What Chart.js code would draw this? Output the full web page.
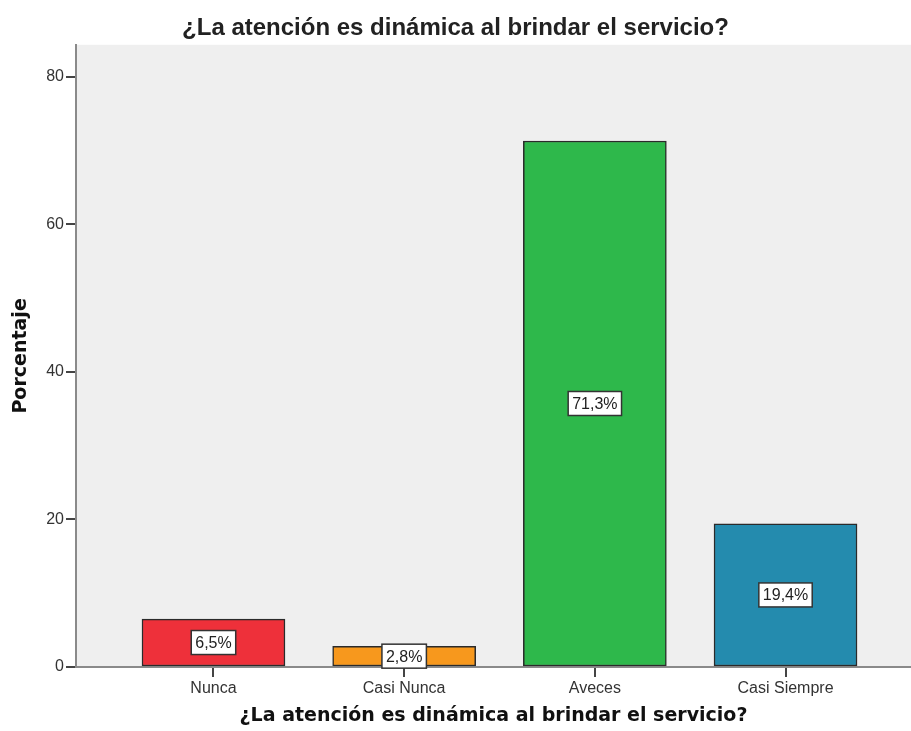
<!DOCTYPE html>
<html>
<head>
<meta charset="utf-8">
<script src="https://cdn.jsdelivr.net/npm/chart.js@4"></script>
<style>
  html,body{margin:0;padding:0;background:#fff;}
  #wrap{width:911px;height:731px;}
</style>
</head>
<body>
<div id="wrap"><canvas id="grafico" width="911" height="731"></canvas></div>
<script>
const categorias = ['Nunca', 'Casi Nunca', 'Aveces', 'Casi Siempre'];
const porcentajes = [6.5, 2.8, 71.3, 19.4];
const colores = ['#ee303a', '#f7981d', '#2eb84b', '#248bae'];
const ticksY = [0, 20, 40, 60, 80];
const titulo = '¿La atención es dinámica al brindar el servicio?';

// etiqueta blanca en medio de cada barra
const etiquetas = {
    id: 'etiquetas',
    afterDatasetsDraw(chart){
        const ctx = chart.ctx;
        const meta = chart.getDatasetMeta(0);
        ctx.save();
        ctx.font = '16px "Liberation Sans", Arial, sans-serif';
        ctx.textAlign = 'center';
        ctx.textBaseline = 'middle';
        meta.data.forEach((bar, i) => {
            const txt = porcentajes[i].toFixed(1).replace('.', ',') + '%';
            const w = ctx.measureText(txt).width + 8;
            const h = 24;
            const cy = (bar.y + bar.base) / 2;
            ctx.fillStyle = '#ffffff';
            ctx.fillRect(bar.x - w/2, cy - h/2, w, h);
            ctx.strokeStyle = '#333';
            ctx.lineWidth = 1.5;
            ctx.strokeRect(bar.x - w/2, cy - h/2, w, h);
            ctx.fillStyle = '#222';
            ctx.fillText(txt, bar.x, cy + 1);
        });
        ctx.restore();
    }
};

// fondo gris del área del gráfico
const fondo = {
    id: 'fondo',
    beforeDraw(chart){
        const a = chart.chartArea;
        chart.ctx.save();
        chart.ctx.fillStyle = '#efefef';
        chart.ctx.fillRect(a.left, a.top, a.right - a.left, a.bottom - a.top);
        chart.ctx.restore();
    }
};

new Chart(document.getElementById('grafico'), {
    type: 'bar',
    data: {
        datasets: [{
            label: 'Porcentaje',
            data: porcentajes.map((v, i) => ({x: i, y: v})),
            backgroundColor: colores,
            borderColor: '#2a2a2a',
            borderWidth: 1.5,
            borderSkipped: false,
            barThickness: 143
        }]
    },
    options: {
        responsive: false,
        animation: false,
        layout: {padding: 0},
        plugins: {
            legend: {display: false},
            tooltip: {enabled: false},
            title: {
                display: true,
                text: titulo,
                color: '#222',
                font: {family: '"Liberation Sans", Arial, sans-serif', size: 24, weight: 'bold'},
                padding: {top: 14, bottom: 2}
            }
        },
        scales: {
            x: {
                type: 'linear',
                offset: false,
                min: -0.721,
                max: 3.658,
                afterFit(s){ s.height = 64; },
                afterBuildTicks(s){ s.ticks = categorias.map((c, i) => ({value: i})); },
                ticks: {
                    includeBounds: false,
                    stepSize: 1,
                    padding: 2,
                    color: '#333',
                    font: {family: '"Liberation Sans", Arial, sans-serif', size: 16},
                    callback: v => categorias[v] ?? ''
                },
                grid: {offset: false, drawOnChartArea: false, tickLength: 10, color: '#444', lineWidth: 2},
                border: {color: '#8a8a8a', width: 2},
                title: {
                    display: true,
                    text: titulo,
                    color: '#111',
                    font: {family: '"DejaVu Sans", sans-serif', size: 19, weight: 'bold'},
                    padding: {top: 0, bottom: 4}
                }
            },
            y: {
                min: 0,
                max: 84.34,
                afterFit(s){ s.width = 76; },
                afterBuildTicks(s){ s.ticks = ticksY.map(v => ({value: v})); },
                ticks: {
                    padding: 2,
                    color: '#333',
                    font: {family: '"Liberation Sans", Arial, sans-serif', size: 16}
                },
                grid: {drawOnChartArea: false, tickLength: 10, color: '#444', lineWidth: 2},
                border: {color: '#8a8a8a', width: 2},
                title: {
                    display: true,
                    text: 'Porcentaje',
                    color: '#111',
                    font: {family: '"DejaVu Sans", sans-serif', size: 19, weight: 'bold'},
                    padding: {top: 10, bottom: 0}
                }
            }
        }
    },
    plugins: [fondo, etiquetas]
});
</script>
</body>
</html>
